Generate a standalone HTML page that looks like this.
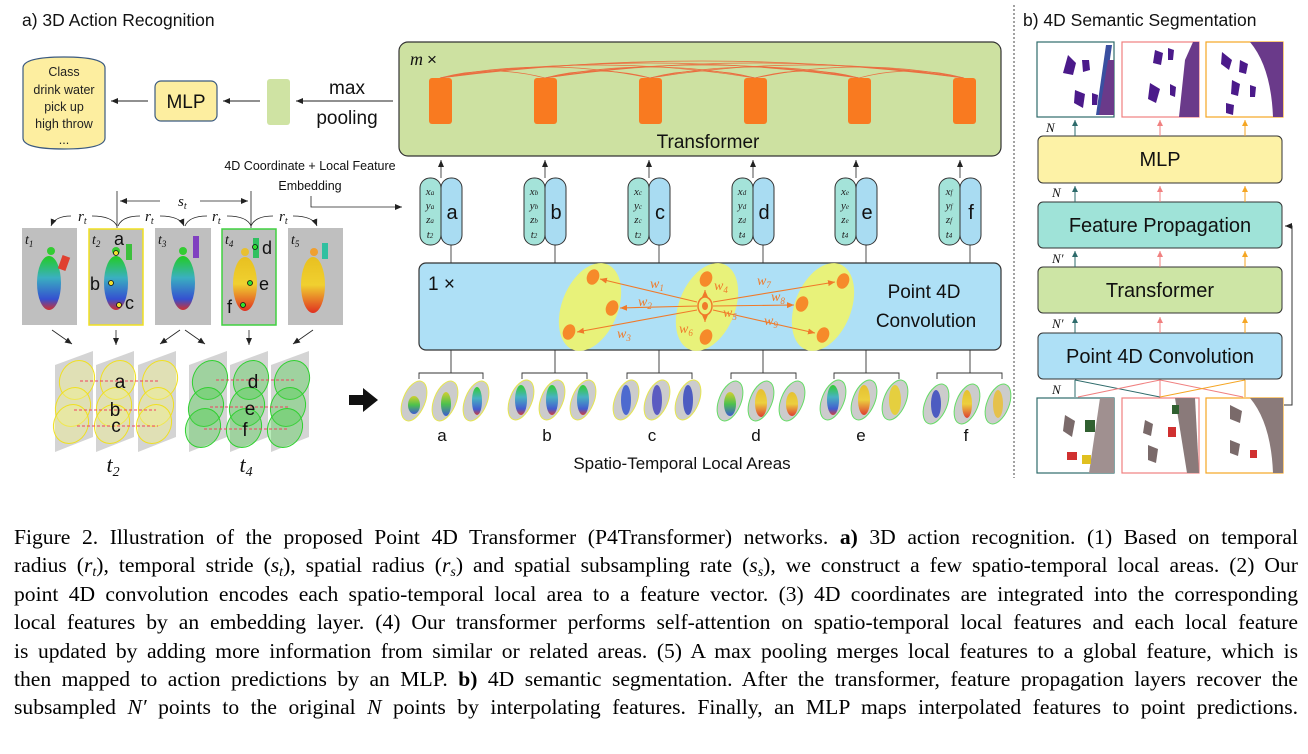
<!DOCTYPE html>
<html><head><meta charset="utf-8">
<style>
html,body{margin:0;padding:0;background:#fff;}
body{width:1308px;height:754px;position:relative;overflow:hidden;}
svg{position:absolute;left:0;top:0;}
.cap{position:absolute;left:14px;top:523px;width:1284px;font-family:"Liberation Serif",serif;font-size:21.6px;line-height:28.4px;color:#000;}
.cap div{text-align:justify;text-align-last:justify;white-space:nowrap;height:28.4px;}
.cap i{font-style:italic;}
.cap sub{font-size:14px;vertical-align:baseline;position:relative;top:4px;line-height:0;}
</style></head><body>
<svg width="1308" height="520" viewBox="0 0 1308 520" font-family="Liberation Sans, sans-serif">
<defs>
<marker id="ah" markerWidth="8" markerHeight="8" refX="7" refY="4" orient="auto" markerUnits="userSpaceOnUse"><path d="M0,1 L7,4 L0,7 z" fill="#222"/></marker>
<marker id="ao" markerWidth="8" markerHeight="8" refX="7" refY="4" orient="auto" markerUnits="userSpaceOnUse"><path d="M0,1 L7,4 L0,7 z" fill="#f07a2a"/></marker>
<marker id="at" markerWidth="7" markerHeight="7" refX="6" refY="3.5" orient="auto" markerUnits="userSpaceOnUse"><path d="M0,0.5 L6,3.5 L0,6.5 z" fill="#2e6b6b"/></marker>
<marker id="ak" markerWidth="7" markerHeight="7" refX="6" refY="3.5" orient="auto" markerUnits="userSpaceOnUse"><path d="M0,0.5 L6,3.5 L0,6.5 z" fill="#f08080"/></marker>
<marker id="ay" markerWidth="7" markerHeight="7" refX="6" refY="3.5" orient="auto" markerUnits="userSpaceOnUse"><path d="M0,0.5 L6,3.5 L0,6.5 z" fill="#f5a623"/></marker>
<linearGradient id="hum1" x1="0" y1="0" x2="0" y2="1"><stop offset="0" stop-color="#2c2"/><stop offset=".4" stop-color="#3ab0c0"/><stop offset=".8" stop-color="#3550d0"/><stop offset="1" stop-color="#d03030"/></linearGradient>
<linearGradient id="hum2" x1="0" y1="0" x2="0" y2="1"><stop offset="0" stop-color="#e8c020"/><stop offset=".5" stop-color="#f0d030"/><stop offset="1" stop-color="#e03020"/></linearGradient>
<linearGradient id="hum3" x1="0" y1="0" x2="0" y2="1"><stop offset="0" stop-color="#d0d020"/><stop offset=".5" stop-color="#40c040"/><stop offset="1" stop-color="#3050d0"/></linearGradient>
</defs>

<text x="22" y="26" font-size="17.5" fill="#111">a) 3D Action Recognition</text>
<line x1="1014" y1="5" x2="1014" y2="478" stroke="#444" stroke-dasharray="2,2"/>
<text x="1023" y="26" font-size="17.5" fill="#111">b) 4D Semantic Segmentation</text>

<path d="M23,68 Q23,57 64,57 Q105,57 105,68 L105,138 Q105,149 64,149 Q23,149 23,138 Z" fill="#fdeea0" stroke="#3b5a80" stroke-width="1.2"/>
<g font-size="12.5" fill="#222" text-anchor="middle">
<text x="64" y="76">Class</text><text x="64" y="94">drink water</text><text x="64" y="111">pick up</text><text x="64" y="128">high throw</text><text x="64" y="144">...</text></g>
<line x1="148" y1="101" x2="111" y2="101" stroke="#222" marker-end="url(#ah)"/>
<rect x="155" y="81" width="62" height="40" rx="6" fill="#fdeea0" stroke="#3b5a80" stroke-width="1.2"/>
<text x="186" y="108" font-size="19" text-anchor="middle" fill="#111">MLP</text>
<line x1="260" y1="101" x2="223" y2="101" stroke="#222" marker-end="url(#ah)"/>
<rect x="267" y="79" width="23" height="46" rx="3" fill="#cfe3a3"/>
<line x1="393" y1="101" x2="296" y2="101" stroke="#222" marker-end="url(#ah)"/>
<text x="347" y="94" font-size="19" text-anchor="middle" fill="#111">max</text>
<text x="347" y="124" font-size="19" text-anchor="middle" fill="#111">pooling</text>

<rect x="399" y="42" width="602" height="114" rx="9" fill="#cde1a1" stroke="#333" stroke-width="1.2"/>
<text x="410" y="65" font-size="18" font-family="Liberation Serif, serif" font-style="italic" fill="#111">m</text>
<text x="427" y="65" font-size="17" fill="#111">×</text>
<g fill="none" stroke="#f05a30" stroke-width="0.8" opacity="0.85">
<path d="M440,78 Q492,64 545,78"/><path d="M440,78 Q545,56 650,78"/><path d="M440,78 Q597,52 755,78"/><path d="M440,78 Q650,48 859,78"/><path d="M440,78 Q702,44 964,78"/>
<path d="M545,78 Q597,64 650,78"/><path d="M545,78 Q650,56 755,78"/><path d="M545,78 Q702,52 859,78"/><path d="M545,78 Q754,48 964,78"/>
<path d="M650,78 Q702,64 755,78"/><path d="M650,78 Q754,56 859,78"/><path d="M650,78 Q807,52 964,78"/>
<path d="M755,78 Q807,64 859,78"/><path d="M755,78 Q859,56 964,78"/><path d="M859,78 Q911,64 964,78"/>
</g>
<g fill="#f97a20">
<rect x="429" y="78" width="23" height="46" rx="3"/><rect x="534" y="78" width="23" height="46" rx="3"/><rect x="639" y="78" width="23" height="46" rx="3"/><rect x="744" y="78" width="23" height="46" rx="3"/><rect x="848" y="78" width="23" height="46" rx="3"/><rect x="953" y="78" width="23" height="46" rx="3"/></g>
<text x="708" y="148" font-size="19" text-anchor="middle" fill="#111">Transformer</text>

<text x="310" y="170" font-size="12.5" text-anchor="middle" fill="#111">4D Coordinate + Local Feature</text>
<text x="310" y="190" font-size="12.5" text-anchor="middle" fill="#111">Embedding</text>
<polyline points="311,196 311,207 402,207" fill="none" stroke="#222" stroke-width="0.8" marker-end="url(#ah)"/>

<g stroke="#333" stroke-width="1">
<rect x="420" y="178" width="21" height="67" rx="10" fill="#a4e3d9"/><rect x="441" y="178" width="21" height="67" rx="10" fill="#a9dcf2"/>
<rect x="524" y="178" width="21" height="67" rx="10" fill="#a4e3d9"/><rect x="545" y="178" width="21" height="67" rx="10" fill="#a9dcf2"/>
<rect x="628" y="178" width="21" height="67" rx="10" fill="#a4e3d9"/><rect x="649" y="178" width="21" height="67" rx="10" fill="#a9dcf2"/>
<rect x="732" y="178" width="21" height="67" rx="10" fill="#a4e3d9"/><rect x="753" y="178" width="21" height="67" rx="10" fill="#a9dcf2"/>
<rect x="835" y="178" width="21" height="67" rx="10" fill="#a4e3d9"/><rect x="856" y="178" width="21" height="67" rx="10" fill="#a9dcf2"/>
<rect x="939" y="178" width="21" height="67" rx="10" fill="#a4e3d9"/><rect x="960" y="178" width="21" height="67" rx="10" fill="#a9dcf2"/>
</g>
<g stroke="#222" stroke-width="0.8">
<line x1="441" y1="178" x2="441" y2="160" marker-end="url(#ah)"/><line x1="545" y1="178" x2="545" y2="160" marker-end="url(#ah)"/><line x1="649" y1="178" x2="649" y2="160" marker-end="url(#ah)"/><line x1="753" y1="178" x2="753" y2="160" marker-end="url(#ah)"/><line x1="856" y1="178" x2="856" y2="160" marker-end="url(#ah)"/><line x1="960" y1="178" x2="960" y2="160" marker-end="url(#ah)"/>
<line x1="451" y1="245" x2="451" y2="263"/><line x1="555" y1="245" x2="555" y2="263"/><line x1="659" y1="245" x2="659" y2="263"/><line x1="763" y1="245" x2="763" y2="263"/><line x1="866" y1="245" x2="866" y2="263"/><line x1="970" y1="245" x2="970" y2="263"/>
</g>
<g font-family="Liberation Serif, serif" font-style="italic" font-size="11" fill="#222" text-anchor="middle">
<text x="430" y="195">x<tspan font-size="7">a</tspan></text><text x="430" y="209">y<tspan font-size="7">a</tspan></text><text x="430" y="223">z<tspan font-size="7">a</tspan></text><text x="430" y="238">t<tspan font-size="7">2</tspan></text>
<text x="534" y="195">x<tspan font-size="7">b</tspan></text><text x="534" y="209">y<tspan font-size="7">b</tspan></text><text x="534" y="223">z<tspan font-size="7">b</tspan></text><text x="534" y="238">t<tspan font-size="7">2</tspan></text>
<text x="638" y="195">x<tspan font-size="7">c</tspan></text><text x="638" y="209">y<tspan font-size="7">c</tspan></text><text x="638" y="223">z<tspan font-size="7">c</tspan></text><text x="638" y="238">t<tspan font-size="7">2</tspan></text>
<text x="742" y="195">x<tspan font-size="7">d</tspan></text><text x="742" y="209">y<tspan font-size="7">d</tspan></text><text x="742" y="223">z<tspan font-size="7">d</tspan></text><text x="742" y="238">t<tspan font-size="7">4</tspan></text>
<text x="845" y="195">x<tspan font-size="7">e</tspan></text><text x="845" y="209">y<tspan font-size="7">e</tspan></text><text x="845" y="223">z<tspan font-size="7">e</tspan></text><text x="845" y="238">t<tspan font-size="7">4</tspan></text>
<text x="949" y="195">x<tspan font-size="7">f</tspan></text><text x="949" y="209">y<tspan font-size="7">f</tspan></text><text x="949" y="223">z<tspan font-size="7">f</tspan></text><text x="949" y="238">t<tspan font-size="7">4</tspan></text>
</g>
<g font-size="20" fill="#111" text-anchor="middle">
<text x="452" y="219">a</text><text x="556" y="219">b</text><text x="660" y="219">c</text><text x="764" y="219">d</text><text x="867" y="219">e</text><text x="971" y="219">f</text></g>

<rect x="419" y="263" width="582" height="87" rx="7" fill="#aee0f6" stroke="#333" stroke-width="1.2"/>
<text x="428" y="290" font-size="19" fill="#111">1 ×</text>
<g fill="#e8f27a">
<ellipse cx="590" cy="307" rx="28" ry="46" transform="rotate(22 590 307)"/>
<ellipse cx="707" cy="307" rx="28" ry="46" transform="rotate(22 707 307)"/>
<ellipse cx="823" cy="307" rx="28" ry="46" transform="rotate(22 823 307)"/></g>
<g fill="#f68a2a">
<ellipse cx="593" cy="277" rx="6" ry="8" transform="rotate(22 593 277)"/><ellipse cx="612" cy="308" rx="6" ry="8" transform="rotate(22 612 308)"/><ellipse cx="569" cy="332" rx="6" ry="8" transform="rotate(22 569 332)"/>
<ellipse cx="706" cy="279" rx="6" ry="8" transform="rotate(22 706 279)"/><ellipse cx="706" cy="337" rx="6" ry="8" transform="rotate(22 706 337)"/>
<ellipse cx="843" cy="281" rx="6" ry="8" transform="rotate(22 843 281)"/><ellipse cx="802" cy="304" rx="6" ry="8" transform="rotate(22 802 304)"/><ellipse cx="823" cy="335" rx="6" ry="8" transform="rotate(22 823 335)"/>
</g>
<ellipse cx="705" cy="306" rx="7" ry="9" fill="none" stroke="#f07a2a" stroke-width="1.5"/>
<ellipse cx="705" cy="306" rx="3" ry="4" fill="#f07a2a"/>
<g stroke="#f07a2a" stroke-width="1.1" fill="none">
<line x1="697" y1="302" x2="600" y2="279" marker-end="url(#ao)"/><line x1="697" y1="306" x2="620" y2="308" marker-end="url(#ao)"/><line x1="697" y1="310" x2="577" y2="332" marker-end="url(#ao)"/>
<line x1="713" y1="302" x2="835" y2="282" marker-end="url(#ao)"/><line x1="713" y1="306" x2="794" y2="305" marker-end="url(#ao)"/><line x1="713" y1="310" x2="815" y2="333" marker-end="url(#ao)"/>
<line x1="705" y1="297" x2="705" y2="290" marker-end="url(#ao)"/><line x1="705" y1="315" x2="705" y2="322" marker-end="url(#ao)"/>
</g>
<g font-family="Liberation Serif, serif" font-style="italic" font-size="14" fill="#f07a2a">
<text x="650" y="288">w<tspan font-size="9" dy="3">1</tspan></text><text x="638" y="306">w<tspan font-size="9" dy="3">2</tspan></text><text x="617" y="338">w<tspan font-size="9" dy="3">3</tspan></text>
<text x="714" y="290">w<tspan font-size="9" dy="3">4</tspan></text><text x="723" y="317">w<tspan font-size="9" dy="3">5</tspan></text><text x="679" y="333">w<tspan font-size="9" dy="3">6</tspan></text>
<text x="757" y="285">w<tspan font-size="9" dy="3">7</tspan></text><text x="771" y="301">w<tspan font-size="9" dy="3">8</tspan></text><text x="764" y="325">w<tspan font-size="9" dy="3">9</tspan></text></g>
<text x="924" y="298" font-size="19" text-anchor="middle" fill="#111">Point 4D</text>
<text x="926" y="327" font-size="19" text-anchor="middle" fill="#111">Convolution</text>

<g stroke="#333" stroke-width="0.9" fill="none">
<path d="M419,379 L419,373 L483,373 L483,379 M451,350 L451,373"/>
<path d="M522,379 L522,373 L587,373 L587,379 M555,350 L555,373"/>
<path d="M627,379 L627,373 L692,373 L692,379 M659,350 L659,373"/>
<path d="M731,379 L731,373 L796,373 L796,379 M763,350 L763,373"/>
<path d="M834,379 L834,373 L899,373 L899,379 M866,350 L866,373"/>
<path d="M937,379 L937,373 L1002,373 L1002,379 M970,350 L970,373"/>
</g>
<g stroke-width="1">
<ellipse cx="414" cy="401" rx="11" ry="21" transform="rotate(22 414 401)" fill="#ccc" stroke="#e6e650"/><ellipse cx="445" cy="401" rx="11" ry="21" transform="rotate(22 445 401)" fill="#ccc" stroke="#e6e650"/><ellipse cx="476" cy="401" rx="11" ry="21" transform="rotate(22 476 401)" fill="#ccc" stroke="#e6e650"/>
<ellipse cx="521" cy="400" rx="11" ry="21" transform="rotate(22 521 400)" fill="#ccc" stroke="#e6e650"/><ellipse cx="552" cy="400" rx="11" ry="21" transform="rotate(22 552 400)" fill="#ccc" stroke="#e6e650"/><ellipse cx="583" cy="400" rx="11" ry="21" transform="rotate(22 583 400)" fill="#ccc" stroke="#e6e650"/>
<ellipse cx="626" cy="400" rx="11" ry="21" transform="rotate(22 626 400)" fill="#ccc" stroke="#e6e650"/><ellipse cx="657" cy="400" rx="11" ry="21" transform="rotate(22 657 400)" fill="#ccc" stroke="#e6e650"/><ellipse cx="688" cy="400" rx="11" ry="21" transform="rotate(22 688 400)" fill="#ccc" stroke="#e6e650"/>
<ellipse cx="730" cy="401" rx="11" ry="21" transform="rotate(22 730 401)" fill="#ccc" stroke="#6d6"/><ellipse cx="761" cy="401" rx="11" ry="21" transform="rotate(22 761 401)" fill="#ccc" stroke="#6d6"/><ellipse cx="792" cy="401" rx="11" ry="21" transform="rotate(22 792 401)" fill="#ccc" stroke="#6d6"/>
<ellipse cx="833" cy="400" rx="11" ry="21" transform="rotate(22 833 400)" fill="#ccc" stroke="#6d6"/><ellipse cx="864" cy="400" rx="11" ry="21" transform="rotate(22 864 400)" fill="#ccc" stroke="#6d6"/><ellipse cx="895" cy="400" rx="11" ry="21" transform="rotate(22 895 400)" fill="#ccc" stroke="#6d6"/>
<ellipse cx="936" cy="404" rx="11" ry="21" transform="rotate(22 936 404)" fill="#ccc" stroke="#6d6"/><ellipse cx="967" cy="404" rx="11" ry="21" transform="rotate(22 967 404)" fill="#ccc" stroke="#6d6"/><ellipse cx="998" cy="404" rx="11" ry="21" transform="rotate(22 998 404)" fill="#ccc" stroke="#6d6"/>
</g>
<g opacity="0.9">
<ellipse cx="414" cy="405" rx="6" ry="9" fill="url(#hum3)"/><ellipse cx="446" cy="404" rx="5" ry="12" fill="url(#hum3)"/><ellipse cx="477" cy="401" rx="5" ry="14" fill="url(#hum1)"/>
<ellipse cx="521" cy="400" rx="6" ry="15" fill="url(#hum1)"/><ellipse cx="552" cy="400" rx="6" ry="15" fill="url(#hum1)"/><ellipse cx="583" cy="400" rx="6" ry="15" fill="url(#hum1)"/>
<ellipse cx="626" cy="400" rx="5" ry="15" fill="#4060d0"/><ellipse cx="657" cy="400" rx="5" ry="15" fill="#5050c0"/><ellipse cx="688" cy="400" rx="5" ry="15" fill="#4050c0"/>
<ellipse cx="730" cy="404" rx="6" ry="12" fill="url(#hum3)"/><ellipse cx="761" cy="403" rx="6" ry="14" fill="url(#hum2)"/><ellipse cx="792" cy="404" rx="6" ry="12" fill="url(#hum2)"/>
<ellipse cx="833" cy="400" rx="6" ry="15" fill="url(#hum1)"/><ellipse cx="864" cy="400" rx="6" ry="15" fill="url(#hum2)"/><ellipse cx="895" cy="400" rx="6" ry="15" fill="#e8d030"/>
<ellipse cx="936" cy="404" rx="5" ry="14" fill="#4050c0"/><ellipse cx="967" cy="404" rx="5" ry="14" fill="url(#hum2)"/><ellipse cx="998" cy="404" rx="5" ry="14" fill="#e8c040"/>
</g>
<g font-size="17" text-anchor="middle" fill="#111">
<text x="442" y="441">a</text><text x="547" y="441">b</text><text x="652" y="441">c</text><text x="756" y="441">d</text><text x="861" y="441">e</text><text x="966" y="441">f</text></g>
<text x="682" y="469" font-size="17" text-anchor="middle" fill="#111">Spatio-Temporal Local Areas</text>

<g stroke="#222" stroke-width="0.8" fill="none">
<line x1="117" y1="191" x2="117" y2="228"/><line x1="251" y1="191" x2="251" y2="228"/>
<line x1="160" y1="201" x2="120" y2="201" marker-end="url(#ah)"/><line x1="200" y1="201" x2="248" y2="201" marker-end="url(#ah)"/>
<path d="M71,216 Q55,216 51,226" marker-end="url(#ah)"/><path d="M92,216 Q112,216 117,226"/>
<path d="M140,216 Q122,216 118,226"/><path d="M160,216 Q180,216 184,226" marker-end="url(#ah)"/>
<path d="M207,216 Q189,216 185,226"/><path d="M227,216 Q247,216 251,226"/>
<path d="M273,216 Q255,216 251,226"/><path d="M293,216 Q313,216 317,226" marker-end="url(#ah)"/>
</g>
<g font-family="Liberation Serif, serif" font-style="italic" fill="#111">
<text x="178" y="206" font-size="15">s<tspan font-size="10" dy="3">t</tspan></text>
<text x="78" y="221" font-size="15">r<tspan font-size="10" dy="3">t</tspan></text>
<text x="145" y="221" font-size="15">r<tspan font-size="10" dy="3">t</tspan></text>
<text x="212" y="221" font-size="15">r<tspan font-size="10" dy="3">t</tspan></text>
<text x="279" y="221" font-size="15">r<tspan font-size="10" dy="3">t</tspan></text>
</g>
<rect x="22" y="228" width="55" height="97" fill="#bfbfbf"/>
<rect x="89" y="229" width="54" height="96" fill="#bfbfbf" stroke="#f0e020" stroke-width="1.5"/>
<rect x="155" y="228" width="56" height="97" fill="#bfbfbf"/>
<rect x="222" y="229" width="54" height="96" fill="#bfbfbf" stroke="#40d040" stroke-width="1.5"/>
<rect x="288" y="228" width="55" height="97" fill="#bfbfbf"/>
<circle cx="51" cy="251" r="4" fill="#3c3"/><ellipse cx="49" cy="283" rx="12" ry="27" fill="url(#hum1)"/><rect x="60" y="256" width="8" height="14" fill="#e04030" transform="rotate(20 64 263)"/>
<circle cx="116" cy="251" r="4" fill="#3c3"/><ellipse cx="116" cy="283" rx="12" ry="27" fill="url(#hum1)"/><rect x="126" y="244" width="6" height="16" fill="#3cc03c"/>
<circle cx="183" cy="251" r="4" fill="#3c3"/><ellipse cx="183" cy="283" rx="12" ry="27" fill="url(#hum1)"/><rect x="193" y="236" width="6" height="22" fill="#8040c0"/>
<circle cx="245" cy="252" r="4" fill="#e8c030"/><ellipse cx="245" cy="284" rx="12" ry="27" fill="url(#hum2)"/><rect x="253" y="238" width="6" height="20" fill="#30c060"/>
<circle cx="314" cy="252" r="4" fill="#f0a030"/><ellipse cx="313" cy="285" rx="12" ry="28" fill="url(#hum2)"/><rect x="322" y="243" width="6" height="16" fill="#30c0a0"/>
<g font-family="Liberation Serif, serif" font-style="italic" fill="#111" font-size="14">
<text x="25" y="244">t<tspan font-size="9" dy="3">1</tspan></text><text x="92" y="244">t<tspan font-size="9" dy="3">2</tspan></text><text x="158" y="244">t<tspan font-size="9" dy="3">3</tspan></text><text x="225" y="244">t<tspan font-size="9" dy="3">4</tspan></text><text x="291" y="244">t<tspan font-size="9" dy="3">5</tspan></text></g>
<g stroke="#111" stroke-width="0.8" fill="#f0e030">
<circle cx="116" cy="253" r="2.5"/><circle cx="111" cy="283" r="2.5"/><circle cx="119" cy="305" r="2.5"/></g>
<g stroke="#111" stroke-width="0.8" fill="#30e030">
<circle cx="255" cy="247" r="2.5"/><circle cx="250" cy="283" r="2.5"/><circle cx="243" cy="305" r="2.5"/></g>
<g font-size="18" fill="#111">
<text x="114" y="245">a</text><text x="90" y="290">b</text><text x="125" y="309">c</text>
<text x="262" y="254">d</text><text x="259" y="290">e</text><text x="227" y="313">f</text></g>

<g stroke="#222" stroke-width="0.8">
<line x1="52" y1="330" x2="72" y2="344" marker-end="url(#ah)"/><line x1="116" y1="330" x2="116" y2="345" marker-end="url(#ah)"/>
<line x1="180" y1="330" x2="160" y2="344" marker-end="url(#ah)"/><line x1="185" y1="330" x2="205" y2="344" marker-end="url(#ah)"/>
<line x1="249" y1="330" x2="249" y2="345" marker-end="url(#ah)"/><line x1="313" y1="330" x2="293" y2="344" marker-end="url(#ah)"/>
</g>
<g fill="#d4d4d4">
<polygon points="55,365 93,351 93,437 55,452"/><polygon points="96,365 134,351 134,437 96,452"/><polygon points="138,365 176,351 176,437 138,452"/>
<polygon points="189,365 227,351 227,437 189,452"/><polygon points="230,365 268,351 268,437 230,452"/><polygon points="271,365 309,351 309,437 271,452"/>
</g>
<g fill="#f0f090" fill-opacity="0.45" stroke="#f0e020" stroke-width="1">
<ellipse cx="77" cy="380" rx="17" ry="20" transform="rotate(25 77 380)"/><ellipse cx="73" cy="407" rx="17" ry="20" transform="rotate(25 73 407)"/><ellipse cx="71" cy="424" rx="17" ry="20" transform="rotate(25 71 424)"/>
<ellipse cx="118" cy="380" rx="17" ry="20" transform="rotate(25 118 380)"/><ellipse cx="114" cy="407" rx="17" ry="20" transform="rotate(25 114 407)"/><ellipse cx="112" cy="424" rx="17" ry="20" transform="rotate(25 112 424)"/>
<ellipse cx="160" cy="380" rx="17" ry="20" transform="rotate(25 160 380)"/><ellipse cx="156" cy="407" rx="17" ry="20" transform="rotate(25 156 407)"/><ellipse cx="154" cy="424" rx="17" ry="20" transform="rotate(25 154 424)"/>
</g>
<g fill="#50d050" fill-opacity="0.4" stroke="#30d030" stroke-width="1">
<ellipse cx="210" cy="380" rx="17" ry="20" transform="rotate(25 210 380)"/><ellipse cx="206" cy="407" rx="17" ry="20" transform="rotate(25 206 407)"/><ellipse cx="203" cy="428" rx="17" ry="20" transform="rotate(25 203 428)"/>
<ellipse cx="251" cy="380" rx="17" ry="20" transform="rotate(25 251 380)"/><ellipse cx="247" cy="407" rx="17" ry="20" transform="rotate(25 247 407)"/><ellipse cx="244" cy="428" rx="17" ry="20" transform="rotate(25 244 428)"/>
<ellipse cx="292" cy="380" rx="17" ry="20" transform="rotate(25 292 380)"/><ellipse cx="288" cy="407" rx="17" ry="20" transform="rotate(25 288 407)"/><ellipse cx="285" cy="428" rx="17" ry="20" transform="rotate(25 285 428)"/>
</g>
<g stroke="#f04060" stroke-width="1" stroke-dasharray="3,2">
<line x1="80" y1="381" x2="160" y2="381"/><line x1="74" y1="410" x2="156" y2="410"/><line x1="77" y1="426" x2="158" y2="426"/>
<line x1="216" y1="380" x2="296" y2="380"/><line x1="210" y1="407" x2="290" y2="407"/><line x1="204" y1="429" x2="287" y2="429"/></g>
<g font-size="19" fill="#111" text-anchor="middle">
<text x="120" y="388">a</text><text x="115" y="416">b</text><text x="116" y="432">c</text>
<text x="253" y="388">d</text><text x="250" y="415">e</text><text x="245" y="436">f</text></g>
<g font-family="Liberation Serif, serif" font-style="italic" fill="#111" font-size="22" text-anchor="middle">
<text x="113" y="472">t<tspan font-size="14" dy="4">2</tspan></text><text x="246" y="472">t<tspan font-size="14" dy="4">4</tspan></text></g>
<polygon points="349,395 363,395 363,388 378,400 363,412 363,405 349,405" fill="#111"/>

<g stroke-width="1.2" fill="#fff">
<rect x="1037" y="42" width="77" height="75" stroke="#2e6b6b"/><rect x="1122" y="42" width="77" height="75" stroke="#f08080"/><rect x="1206" y="42" width="77" height="75" stroke="#f5a623"/>
<rect x="1037" y="398" width="77" height="75" stroke="#2e6b6b"/><rect x="1122" y="398" width="77" height="75" stroke="#f08080"/><rect x="1206" y="398" width="77" height="75" stroke="#f5a623"/>
</g>
<g fill="#4b1a8a">
<path d="M1068,55 l8,8 l-3,12 l-10,-2 z"/><path d="M1082,60 l7,0 l1,10 l-7,2 z"/><path d="M1075,90 l10,4 l-2,14 l-9,-5 z"/><path d="M1092,93 l6,2 l-1,10 l-5,0 z"/>
<path d="M1106,45 l6,0 l-10,70 l-6,0 z" fill="#3a4fa0"/><path d="M1108,60 l6,0 l0,55 l-15,0 z" fill="#6a3a8a"/>
<path d="M1155,50 l8,3 l-2,12 l-8,-2 z"/><path d="M1168,48 l6,2 l-1,10 l-5,0 z"/><path d="M1150,83 l10,6 l-4,14 l-8,-4 z"/><path d="M1170,84 l6,3 l-1,10 l-5,-2 z"/>
<path d="M1185,60 l8,-18 l6,0 l0,75 l-20,0 z" fill="#6a3a8a"/>
<path d="M1222,52 l10,8 l-3,10 l-8,-6 z"/><path d="M1240,60 l8,4 l-2,10 l-7,-2 z"/><path d="M1232,80 l8,4 l-2,12 l-7,-2 z"/><path d="M1250,85 l6,2 l-1,10 l-5,0 z"/><path d="M1226,103 l8,2 l-1,10 l-7,-2 z"/>
<path d="M1250,42 l33,0 l0,75 l-10,0 q-2,-50 -23,-75 z" fill="#6a3a8a"/>
</g>
<g fill="#7a6a6a">
<path d="M1065,415 l10,6 l-3,16 l-9,-6 z"/><path d="M1100,398 l14,0 l0,75 l-25,0 z" fill="#a09090"/>
<path d="M1145,420 l8,4 l-2,12 l-8,-3 z"/><path d="M1175,398 l20,0 l4,75 l-12,0 z" fill="#8a7a7a"/><path d="M1148,445 l10,4 l-2,14 l-8,-3 z"/>
<path d="M1230,405 l12,6 l-2,12 l-10,-4 z"/><path d="M1250,398 l33,0 l0,75 l-10,0 q-2,-50 -23,-75 z" fill="#8a7a7a"/><path d="M1230,440 l10,4 l-2,12 l-8,-3 z"/>
</g>
<rect x="1067" y="452" width="10" height="8" fill="#d03030"/><rect x="1082" y="455" width="9" height="9" fill="#e0c020"/><rect x="1085" y="420" width="10" height="12" fill="#306030"/>
<rect x="1168" y="427" width="8" height="10" fill="#d03030"/><rect x="1172" y="405" width="7" height="9" fill="#306030"/><rect x="1250" y="450" width="7" height="8" fill="#d03030"/>

<g stroke="#333" stroke-width="1">
<rect x="1038" y="136" width="244" height="47" rx="5" fill="#fdf2a6"/>
<rect x="1038" y="202" width="244" height="46" rx="5" fill="#9fe3d8"/>
<rect x="1038" y="267" width="244" height="46" rx="5" fill="#cde5a5"/>
<rect x="1038" y="333" width="244" height="46" rx="5" fill="#aee0f6"/>
</g>
<g font-size="20" fill="#111" text-anchor="middle">
<text x="1160" y="166">MLP</text><text x="1160" y="232">Feature Propagation</text><text x="1160" y="297">Transformer</text><text x="1160" y="363">Point 4D Convolution</text></g>
<g stroke-width="1">
<line x1="1075" y1="136" x2="1075" y2="120" stroke="#2e6b6b" marker-end="url(#at)"/><line x1="1160" y1="136" x2="1160" y2="120" stroke="#f08080" marker-end="url(#ak)"/><line x1="1245" y1="136" x2="1245" y2="120" stroke="#f5a623" marker-end="url(#ay)"/>
<line x1="1075" y1="202" x2="1075" y2="186" stroke="#2e6b6b" marker-end="url(#at)"/><line x1="1160" y1="202" x2="1160" y2="186" stroke="#f08080" marker-end="url(#ak)"/><line x1="1245" y1="202" x2="1245" y2="186" stroke="#f5a623" marker-end="url(#ay)"/>
<line x1="1075" y1="267" x2="1075" y2="251" stroke="#2e6b6b" marker-end="url(#at)"/><line x1="1160" y1="267" x2="1160" y2="251" stroke="#f08080" marker-end="url(#ak)"/><line x1="1245" y1="267" x2="1245" y2="251" stroke="#f5a623" marker-end="url(#ay)"/>
<line x1="1075" y1="333" x2="1075" y2="317" stroke="#2e6b6b" marker-end="url(#at)"/><line x1="1160" y1="333" x2="1160" y2="317" stroke="#f08080" marker-end="url(#ak)"/><line x1="1245" y1="333" x2="1245" y2="317" stroke="#f5a623" marker-end="url(#ay)"/>
<path d="M1075,380 L1075,397 M1075,380 L1160,397" stroke="#2e6b6b" fill="none"/>
<path d="M1160,380 L1160,397 M1160,380 L1078,397 M1160,380 L1243,397" stroke="#f08080" fill="none"/>
<path d="M1245,380 L1245,397 M1245,380 L1160,397" stroke="#f5a623" fill="none"/>
<polyline points="1284,405 1292,405 1292,226 1285,226" fill="none" stroke="#333" marker-end="url(#ah)"/>
</g>
<g font-family="Liberation Serif, serif" font-style="italic" font-size="13" fill="#111">
<text x="1046" y="132">N</text><text x="1052" y="197">N</text><text x="1052" y="263">N′</text><text x="1052" y="328">N′</text><text x="1052" y="394">N</text></g>
</svg>

<div class="cap">
<div>Figure 2. Illustration of the proposed Point 4D Transformer (P4Transformer) networks. <b>a)</b> 3D action recognition. (1) Based on temporal</div>
<div>radius (<i>r<sub>t</sub></i>), temporal stride (<i>s<sub>t</sub></i>), spatial radius (<i>r<sub>s</sub></i>) and spatial subsampling rate (<i>s<sub>s</sub></i>), we construct a few spatio-temporal local areas. (2) Our</div>
<div>point 4D convolution encodes each spatio-temporal local area to a feature vector. (3) 4D coordinates are integrated into the corresponding</div>
<div>local features by an embedding layer. (4) Our transformer performs self-attention on spatio-temporal local features and each local feature</div>
<div>is updated by adding more information from similar or related areas. (5) A max pooling merges local features to a global feature, which is</div>
<div>then mapped to action predictions by an MLP. <b>b)</b> 4D semantic segmentation. After the transformer, feature propagation layers recover the</div>
<div>subsampled <i>N′</i> points to the original <i>N</i> points by interpolating features. Finally, an MLP maps interpolated features to point predictions.</div>
</div>
</body></html>
